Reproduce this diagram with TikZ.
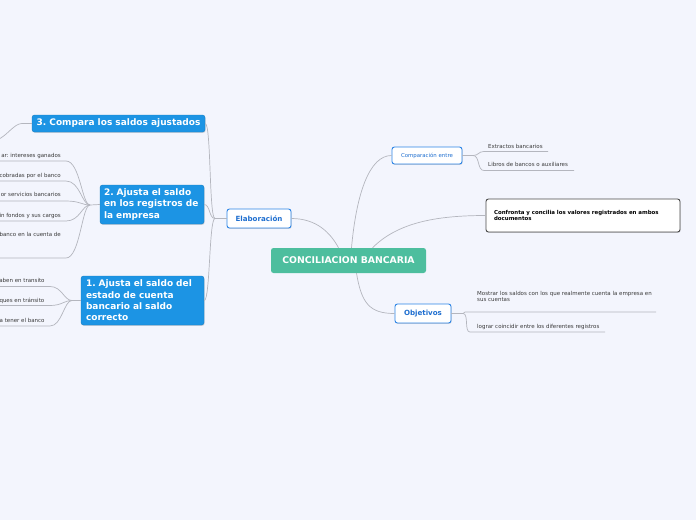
\documentclass[tikz,border=0pt]{standalone}
\usepackage{fontspec}
\setmainfont{DejaVu Sans}
\usetikzlibrary{shadows}
\definecolor{bgc}{HTML}{F3F5FD}
\definecolor{mmblue}{HTML}{1C94E4}
\definecolor{mmborder}{HTML}{2B84E6}
\definecolor{mmtext}{HTML}{1F6FD0}
\definecolor{mmteal}{HTML}{4DBE9E}
\definecolor{mmline}{HTML}{B4B6BE}
\definecolor{leaftext}{HTML}{3A3A3A}
\definecolor{darkborder}{HTML}{4A4A4A}
\frenchspacing
\tikzset{
  softshadow/.style={drop shadow={shadow xshift=0.6pt, shadow yshift=-0.9pt, opacity=0.3}},
  bluebox/.style={fill=mmblue, draw=mmblue!85!black, line width=0.4pt, rounded corners=2.5pt,
    text=white, font=\fontsize{9}{11.3}\selectfont\bfseries, align=left, inner ysep=0pt, softshadow},
  whitebox/.style={fill=white, draw=mmborder, line width=0.9pt, rounded corners=2.5pt,
    text=mmtext, align=center, inner ysep=0pt, softshadow},
  leaf/.style={font=\fontsize{5.5}{6.4}\selectfont, text=leaftext, inner sep=0pt},
  conn/.style={draw=mmline, line width=0.7pt},
}
\begin{document}
\begin{tikzpicture}[x=1pt,y=-1pt]
\useasboundingbox[fill=bgc] (0,0) rectangle (696,520);

% main nodes
\node[bluebox, minimum width=173pt, inner xsep=0pt, minimum height=17pt] (n3) at (118.5,123.5) {3. Compara los saldos ajustados};
\node[bluebox, text width=96pt, inner xsep=4pt, minimum height=39pt] (n2) at (152,204.5) {2. Ajusta el saldo\\en los registros de\\la empresa};
\node[bluebox, text width=113pt, inner xsep=5pt, minimum height=49pt] (n1) at (142.5,300.5) {1. Ajusta el saldo del\\estado de cuenta\\bancario al saldo\\correcto};
\node[whitebox, font=\fontsize{7.1}{8.5}\selectfont\bfseries, text width=56pt, inner xsep=4pt, minimum height=19pt] (el) at (259,218.5) {Elaboración};
\node[fill=mmteal, rounded corners=2.5pt, text=white, font=\fontsize{9.3}{11}\selectfont\bfseries, text width=145pt, inner xsep=5pt, inner ysep=0pt, align=center, minimum height=25pt] (c) at (348.5,260.5) {CONCILIACION BANCARIA};
\node[whitebox, font=\fontsize{5.4}{6.5}\selectfont, text width=62pt, inner xsep=4pt, minimum height=17pt] (cmp) at (427,155.5) {Comparación entre};
\node[whitebox, draw=darkborder, text=black, font=\fontsize{5.45}{6.2}\selectfont\bfseries, text width=178pt, inner xsep=8pt, align=left, minimum height=33pt] (conf) at (583,215.5) {Confronta y concilia los valores registrados en ambos\\documentos};
\node[whitebox, font=\fontsize{7.1}{8.5}\selectfont\bfseries, text width=48pt, inner xsep=4pt, minimum height=19pt] (obj) at (423,313.5) {Objetivos};

% junctions and underline ends
\coordinate (cj) at (473,155.5);
\coordinate (oj) at (463,313.5);
\coordinate (ej) at (215,218.5);
\coordinate (j2) at (90,205);
\coordinate (j1) at (72,300.5);
\coordinate (n3j) at (22,123.5);
\coordinate (n3o) at (-3,140);

\coordinate (extL) at (484,151.5); \coordinate (extR) at (548,151.5);
\coordinate (libL) at (484,170.5); \coordinate (libR) at (574,170.5);
\coordinate (mosL) at (465,312); \coordinate (mosR) at (656,312);
\coordinate (logL) at (470,332); \coordinate (logR) at (605,332);

\coordinate (a1r) at (66,161); \coordinate (a1l) at (-2,161);
\coordinate (a2r) at (66,181); \coordinate (a2l) at (-2,181);
\coordinate (a3r) at (66,201); \coordinate (a3l) at (-2,201);
\coordinate (a4r) at (66,221); \coordinate (a4l) at (-2,221);
\coordinate (a5r) at (66,258); \coordinate (a5l) at (-2,258);
\coordinate (b1r) at (50,286.5); \coordinate (b1l) at (-2,286.5);
\coordinate (b2r) at (50,305.5); \coordinate (b2l) at (-2,305.5);
\coordinate (b3r) at (50,326); \coordinate (b3l) at (-2,326);

% leaf texts
\node[leaf, anchor=base west] (ext) at (488,148) {Extractos bancarios};
\node[leaf, anchor=base west] (lib) at (488,166.5) {Libros de bancos o auxiliares};
\node[leaf, anchor=base west, align=left] (mos) at (477,301.8) {Mostrar los saldos con los que realmente cuenta la empresa en\\sus cuentas};
\node[leaf, anchor=base west] (log) at (477,328) {lograr coincidir entre los diferentes registros};

\node[leaf, anchor=base east] (a1) at (61,157.8) {ar: intereses ganados};
\node[leaf, anchor=base east] (a2) at (61,177.5) {cobradas por el banco};
\node[leaf, anchor=base east] (a3) at (61,196.8) {or servicios bancarios};
\node[leaf, anchor=base east] (a4) at (61,217) {in fondos y sus cargos};
\node[leaf, anchor=base east] (a5) at (61,236.2) {banco en la cuenta de};
\node[leaf, anchor=base east] (b1) at (44.8,282.8) {aben en transito};
\node[leaf, anchor=base east] (b2) at (44.5,302.4) {ques en tránsito};
\node[leaf, anchor=base east] (b3) at (44.8,322.3) {a tener el banco};

% connectors from the central node
\draw[conn] (el.east) .. controls +(25,0) and +(-8,-15) .. ([xshift=-10pt]c.north);
\draw[conn] ([xshift=3pt]c.north) .. controls +(5,-55) and +(-22,0) .. (cmp.west);
\draw[conn] ([xshift=24pt]c.north) .. controls +(25,-25) and +(-50,0) .. (conf.west);
\draw[conn] ([xshift=8pt]c.south) .. controls +(5,30) and +(-25,0) .. (obj.west);

% Comparacion entre
\draw[conn] (cmp.east) -- (cj);
\draw[conn] (cj) .. controls +(6,0) and +(-6,0) .. (extL) -- (extR);
\draw[conn] (cj) .. controls +(7,0) and +(-7,0) .. (libL) -- (libR);

% Objetivos
\draw[conn] (obj.east) -- (oj);
\draw[conn] (oj) .. controls +(1,0) and +(-1,0) .. (mosL) -- (mosR);
\draw[conn] (oj) .. controls +(6,0) and +(-6,0) .. (logL) -- (logR);

% Elaboracion trunk
\draw[conn] (el.west) -- (ej);
\draw[conn] (ej) .. controls +(-6,0) and +(6,0) .. (n3.east);
\draw[conn] (ej) .. controls +(-6,0) and +(6,0) .. (n2.east);
\draw[conn] (ej) .. controls +(-6,0) and +(6,0) .. (n1.east);

% node 3 branch
\draw[conn] (n3.west) -- (n3j) .. controls +(-8,0) and +(10,-4) .. (n3o);

% node 2 branches
\draw[conn] (n2.west) -- (j2);
\draw[conn] (a1l) -- (a1r) .. controls +(14,0) and +(-8,0) .. (j2);
\draw[conn] (a2l) -- (a2r) .. controls +(14,0) and +(-8,0) .. (j2);
\draw[conn] (a3l) -- (a3r) .. controls +(14,0) and +(-8,0) .. (j2);
\draw[conn] (a4l) -- (a4r) .. controls +(14,0) and +(-8,0) .. (j2);
\draw[conn] (a5l) -- (a5r) .. controls +(14,0) and +(-8,0) .. (j2);

% node 1 branches
\draw[conn] (n1.west) -- (j1);
\draw[conn] (b1l) -- (b1r) .. controls +(12,0) and +(-8,0) .. (j1);
\draw[conn] (b2l) -- (b2r) .. controls +(12,0) and +(-8,0) .. (j1);
\draw[conn] (b3l) -- (b3r) .. controls +(12,0) and +(-8,0) .. (j1);
\end{tikzpicture}
\end{document}
